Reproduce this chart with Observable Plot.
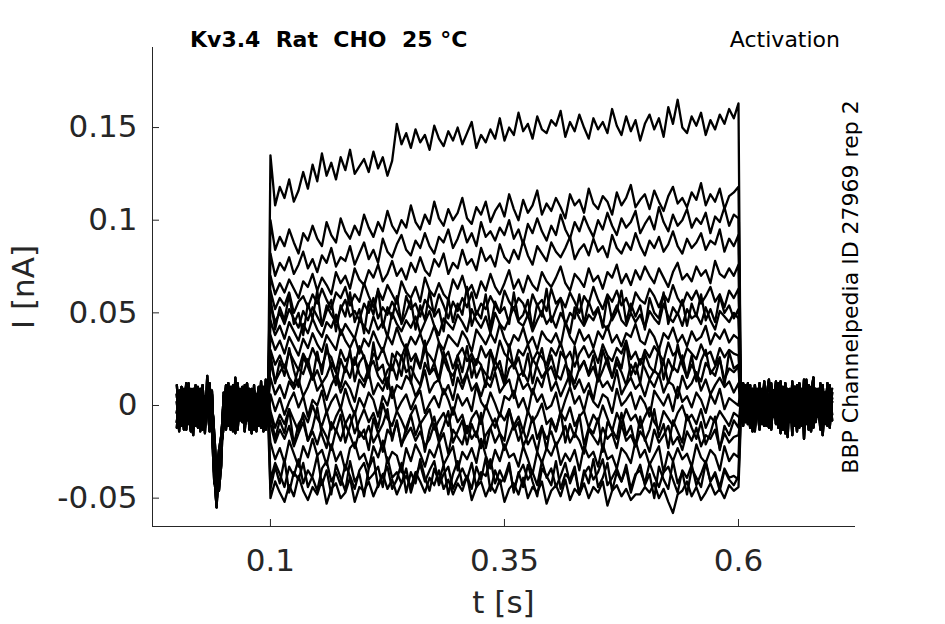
<!DOCTYPE html>
<html><head><meta charset="utf-8">
<script src="https://cdn.jsdelivr.net/npm/d3@7"></script>
<script src="https://cdn.jsdelivr.net/npm/@observablehq/plot@0.6"></script>
<style>body{margin:0;background:#fff} svg text{font-family:"DejaVu Sans"}</style>
</head><body><div id="chart"></div>
<script>
// ---- axes / labels ----
const xTicks = [0.1, 0.35, 0.6];
const yTicks = [-0.05, 0, 0.05, 0.1, 0.15];
const xDomain = [-0.026, 0.725];
const yDomain = [-0.0653, 0.1932];
const titleText = "Kv3.4  Rat  CHO  25 °C";
const protocolText = "Activation";
const sourceText = "BBP Channelpedia ID 27969 rep 2";
const xLabel = "t [s]";
const yLabel = "I [nA]";

// ---- protocol timing (s) ----
const pulseStart = 0.1, pulseEnd = 0.6, sweepEnd = 0.7;

// ---- current during the voltage step, per sweep (pA), sampled 0.100..0.600 s ----
const sweep1 = [135,108,118,112,122,110,116,126,117,130,121,136,124,131,122,134,127,138,125,129,133,126,137,128,134,124,132,152,141,147,139,149,142,146,138,151,144,140,148,143,150,141,147,153,139,146,142,149,144,155,143,150,146,158,148,152,144,156,149,147,154,151,159,145,153,148,157,150,144,155,149,153,147,160,151,146,156,148,154,143,152,157,149,155,145,161,152,165,150,147,156,151,158,146,154,149,157,152,160,155,163];
const sweep2 = [100,84,91,86,95,88,82,93,89,97,90,86,99,92,88,101,94,90,97,92,103,96,91,99,94,105,97,93,100,96,108,99,95,103,98,110,101,97,106,100,104,112,101,98,107,103,110,99,105,109,102,114,106,100,111,104,108,116,103,109,105,112,107,101,114,108,111,104,117,109,106,113,110,103,115,108,112,119,107,111,114,106,116,110,105,113,118,109,112,107,115,111,120,108,114,110,117,106,113,115,118];
const sweep3 = [82,70,77,73,80,71,76,83,74,79,72,81,77,85,75,80,78,86,76,82,88,79,84,77,90,83,80,87,92,84,81,89,85,93,86,82,91,88,95,85,90,97,88,93,86,99,91,94,89,96,92,100,90,95,87,98,93,101,94,89,97,92,103,95,90,99,94,102,96,91,100,95,104,97,92,101,96,99,105,93,98,102,95,107,99,94,103,97,100,106,96,101,98,104,93,102,99,107,97,103,101];
const sweep4 = [70,60,66,61,68,63,58,67,64,71,62,69,65,60,72,66,70,63,74,68,65,73,69,76,67,71,78,70,74,68,77,72,80,73,70,79,75,82,71,77,74,84,76,79,73,85,78,81,75,87,80,77,84,79,89,81,76,86,82,78,88,83,80,85,91,79,84,87,81,90,83,86,80,92,85,82,88,84,93,86,81,89,85,91,83,87,94,86,82,90,85,88,93,84,89,87,95,83,90,86,92];
const sweep5 = [62,52,58,54,61,50,56,59,53,60,55,63,57,52,61,58,64,54,60,56,66,59,53,62,57,65,60,55,67,61,58,64,56,69,62,59,66,60,57,68,63,70,61,65,58,67,62,71,64,60,66,73,63,68,61,70,65,62,72,67,64,69,75,66,62,71,68,64,74,67,70,63,72,69,76,66,71,65,73,68,75,70,66,74,69,64,72,77,68,71,67,75,70,73,66,78,71,69,74,70,76];
const sweep6 = [55,45,50,44,52,47,42,51,46,53,48,43,54,49,45,52,57,48,51,46,55,50,58,47,53,49,56,51,45,59,52,55,48,57,53,50,60,54,47,56,51,58,53,61,49,55,52,59,54,50,62,56,52,58,55,48,60,54,57,51,63,55,58,53,61,56,50,59,55,64,57,52,60,56,62,54,58,51,61,57,55,63,59,53,60,56,65,58,54,61,57,62,55,59,64,56,60,53,62,58,63];
const sweep7 = [58,41,53,46,60,44,50,38,55,47,62,43,51,57,40,54,48,61,45,52,39,56,49,63,42,53,47,59,44,50,57,41,54,46,62,48,52,40,58,45,55,49,64,43,51,47,60,42,56,50,53,44,61,46,49,57,41,55,48,63,45,52,58,43,50,47,60,44,56,49,53,42,59,46,51,62,45,55,48,54,41,58,50,47,61,44,53,49,57,43,55,48,60,46,52,45,59,50,54,47,52];
const sweep8 = [46,38,43,36,45,40,35,44,39,47,41,37,45,42,49,38,44,40,36,46,43,39,48,41,45,37,50,44,40,46,42,48,39,45,51,43,38,47,44,41,49,45,40,52,46,42,48,39,50,44,41,47,53,45,43,49,40,46,51,44,48,42,50,45,39,53,47,43,49,46,52,44,41,48,54,46,43,50,45,49,42,51,47,44,55,48,45,50,43,52,47,49,44,53,46,41,51,48,45,50,47];
const sweep9 = [38,30,35,28,37,32,27,36,31,39,33,29,38,34,30,41,35,31,37,28,36,32,40,34,29,38,33,42,35,30,37,33,39,31,36,43,34,30,38,35,32,40,36,29,41,37,33,39,34,44,36,31,38,35,42,33,37,30,40,36,34,39,32,45,37,33,41,35,38,31,40,36,43,34,38,32,39,37,44,35,33,41,37,30,39,36,42,34,38,32,40,35,37,43,33,39,36,41,34,38,36];
const sweep10 = [30,22,27,20,29,24,19,28,23,31,25,21,29,26,18,30,24,27,22,32,26,20,28,25,31,23,19,29,26,33,24,28,21,30,27,23,34,25,29,20,27,31,24,28,22,32,26,30,23,35,28,25,21,30,27,33,24,29,26,22,31,27,34,25,29,21,28,32,26,30,23,33,27,24,31,28,35,25,29,22,30,26,32,28,24,34,27,30,23,31,28,25,33,27,29,22,31,26,30,28,27];
const sweep11 = [28,12,24,16,31,19,10,26,21,14,29,17,33,20,11,25,18,30,13,23,27,15,34,19,22,9,28,24,16,31,12,26,20,35,17,23,14,29,21,11,27,18,32,15,25,22,10,30,19,24,13,33,20,26,16,28,12,23,31,18,21,14,29,25,11,32,19,24,17,27,13,30,22,15,26,20,34,16,23,12,28,21,18,31,14,25,19,33,22,15,27,13,24,30,17,21,26,11,29,20,22];
const sweep12 = [24,13,18,22,15,11,20,17,25,14,19,12,16,23,18,10,21,15,26,17,13,20,24,16,12,19,22,14,27,18,21,15,11,23,17,20,13,25,19,16,22,12,18,26,15,21,17,14,24,19,11,20,23,16,18,13,25,21,15,19,27,17,14,22,18,12,20,24,16,21,13,19,26,15,23,18,11,22,17,25,20,14,19,16,24,12,21,18,27,15,22,17,13,23,19,16,25,14,20,18,21];
const sweep13 = [15,6,11,4,13,9,14,5,10,17,8,12,3,11,16,7,13,9,2,14,10,18,6,12,8,15,4,11,9,16,13,5,10,19,7,12,14,6,11,3,15,9,17,8,12,5,13,10,18,7,11,14,4,16,9,12,6,15,10,20,8,13,5,11,17,9,14,7,12,3,16,10,13,8,19,6,11,15,9,12,5,14,10,17,7,13,11,4,16,9,12,18,8,14,6,11,15,10,13,7,12];
const sweep14 = [6,-3,4,-5,2,7,-1,5,-6,3,0,8,-4,2,6,-2,9,1,-5,4,-1,7,3,-6,5,0,10,-3,2,6,-2,4,8,-4,1,5,-1,9,3,-5,6,0,4,-3,11,2,-2,7,1,-6,5,3,8,-1,4,-4,9,2,6,-2,0,7,-5,3,10,1,5,-3,8,2,-1,6,4,-4,9,0,3,7,-2,5,1,-6,8,4,0,6,-3,10,2,5,-1,7,3,-4,6,1,9,-2,4,2,0];
const sweep15 = [-3,-12,-5,-10,-2,-8,-14,-4,-9,0,-7,-11,-3,-13,-6,-1,-10,-5,-15,-8,-2,-9,-4,-12,1,-7,-11,-3,-8,-14,-5,0,-10,-6,-2,-13,-8,-4,-11,-1,-9,-5,-15,-7,-3,-10,0,-6,-12,-4,-8,-2,-11,-6,-14,-3,-9,-5,1,-10,-7,-13,-4,-8,-1,-11,-6,-3,-12,-5,-9,0,-7,-14,-4,-10,-2,-8,-5,-12,-6,-1,-9,-13,-3,-7,-11,-4,0,-8,-5,-10,-2,-12,-6,-9,-3,-7,-11,-4,-6];
const sweep16 = [-4,-18,-8,-15,-2,-21,-10,-6,-19,-12,-1,-16,-23,-9,-14,-5,-20,-11,-3,-17,-13,-24,-7,-15,-10,-2,-19,-8,-22,-12,-5,-16,-9,-25,-13,-6,-18,-11,-3,-20,-14,-8,-21,-10,-17,-4,-23,-12,-7,-15,-19,-2,-13,-9,-22,-16,-6,-18,-11,-24,-8,-14,-3,-20,-10,-17,-5,-21,-12,-15,-7,-25,-9,-13,-18,-4,-16,-11,-22,-6,-19,-13,-2,-17,-10,-23,-8,-14,-20,-5,-12,-18,-9,-21,-15,-6,-24,-11,-16,-8,-12];
const sweep17 = [-10,-20,-13,-18,-11,-22,-15,-9,-19,-14,-21,-12,-17,-24,-13,-19,-10,-16,-23,-14,-18,-11,-20,-15,-25,-13,-17,-9,-21,-16,-12,-19,-14,-22,-18,-10,-20,-15,-26,-13,-17,-21,-11,-18,-14,-23,-16,-12,-20,-15,-24,-17,-10,-19,-13,-21,-16,-25,-12,-18,-14,-22,-17,-11,-20,-15,-19,-26,-13,-17,-21,-12,-18,-15,-23,-10,-19,-16,-22,-14,-18,-25,-13,-20,-16,-11,-21,-17,-24,-14,-19,-12,-22,-16,-18,-13,-23,-15,-20,-17,-16];
const sweep18 = [-20,-29,-23,-31,-19,-26,-33,-22,-28,-18,-27,-24,-32,-21,-30,-25,-35,-23,-20,-29,-26,-34,-22,-28,-19,-31,-25,-27,-36,-23,-30,-21,-26,-33,-24,-28,-20,-32,-27,-22,-35,-25,-29,-23,-31,-18,-27,-34,-24,-30,-21,-28,-26,-33,-22,-29,-37,-25,-31,-23,-27,-20,-32,-26,-30,-24,-35,-22,-28,-25,-33,-21,-29,-27,-34,-23,-26,-31,-19,-28,-24,-32,-27,-22,-36,-25,-30,-23,-29,-26,-33,-21,-28,-31,-24,-27,-35,-22,-30,-26,-28];
const sweep19 = [-40,-31,-37,-44,-33,-38,-29,-42,-35,-39,-46,-34,-30,-41,-36,-43,-32,-38,-45,-35,-31,-40,-37,-33,-44,-28,-39,-36,-42,-34,-47,-38,-32,-41,-35,-30,-43,-37,-33,-45,-39,-34,-40,-31,-44,-36,-38,-29,-42,-35,-41,-33,-46,-37,-32,-40,-36,-43,-30,-39,-34,-44,-38,-31,-42,-35,-48,-37,-33,-40,-36,-29,-43,-39,-34,-41,-32,-45,-37,-35,-42,-31,-38,-44,-36,-33,-40,-47,-35,-39,-32,-43,-37,-30,-41,-36,-44,-34,-39,-38,-40];
const sweep20 = [-45,-33,-42,-29,-47,-36,-40,-31,-44,-38,-27,-43,-35,-48,-32,-39,-46,-30,-41,-37,-49,-34,-28,-44,-38,-33,-45,-40,-31,-47,-36,-42,-29,-39,-46,-34,-41,-32,-48,-37,-30,-43,-38,-45,-33,-40,-28,-46,-35,-42,-39,-31,-47,-36,-44,-32,-41,-49,-34,-38,-43,-30,-45,-37,-40,-33,-48,-35,-42,-29,-44,-39,-31,-46,-36,-41,-34,-47,-38,-32,-43,-37,-50,-33,-40,-45,-30,-42,-36,-48,-34,-39,-44,-31,-41,-37,-46,-35,-40,-43,-38];
const sweep21 = [-50,-41,-47,-52,-43,-49,-38,-46,-51,-44,-48,-40,-53,-45,-42,-50,-47,-39,-52,-44,-46,-41,-49,-43,-37,-45,-40,-48,-42,-38,-44,-36,-41,-47,-39,-43,-35,-45,-40,-48,-42,-46,-38,-51,-44,-41,-49,-43,-47,-40,-52,-45,-42,-48,-39,-50,-44,-47,-41,-53,-46,-43,-49,-40,-51,-45,-48,-42,-50,-44,-47,-41,-54,-46,-43,-49,-45,-51,-48,-48,-44,-47,-42,-50,-45,-52,-58,-48,-46,-41,-49,-44,-51,-47,-42,-48,-45,-50,-43,-46,-44];
const pulseSweeps = [sweep1,sweep2,sweep3,sweep4,sweep5,sweep6,sweep7,sweep8,sweep9,sweep10,sweep11,sweep12,sweep13,sweep14,sweep15,sweep16,sweep17,sweep18,sweep19,sweep20,sweep21];

// ---- holding current before the step (pA), 0..0.1 s, incl. prepulse transient ----
const preA = [-4,8,-11,3,-7,9,-13,2,-6,10,-9,4,-12,7,-3,6,-20,-48,-30,-18,5,-10,8,-5,11,-12,2,-8,9,-14,4,-6,7,-11,1,10,-9,5,-13,3];
const preB = [6,-12,4,-8,11,-3,-14,7,-10,2,9,-13,5,-6,12,-9,-38,-55,-27,-22,-7,9,-11,3,-4,10,-13,6,-9,2,12,-7,-15,4,-3,8,-12,1,9,-10];
const preC = [-9,3,10,-6,-13,5,-2,9,-11,7,-4,11,-8,1,-14,8,-25,-44,-40,-26,3,-6,12,-13,4,-9,7,-2,10,-11,-5,9,-12,6,-7,3,11,-14,-1,7];
const preD = [2,-14,8,-5,12,-10,4,-7,11,-12,1,7,-15,9,-3,-11,-30,-52,-35,-21,-12,6,-4,10,-14,8,-9,5,-1,11,-8,3,9,-13,6,-6,13,-10,4,-2];
const preE = [11,-7,1,-13,6,-4,9,-11,3,8,-14,5,-9,16,-6,2,-15,-36,-46,-32,7,-13,1,6,-10,15,-7,9,-3,-12,8,-1,-9,11,-14,4,-5,10,-8,5];
const preF = [-12,5,-2,9,-9,12,-6,-16,8,-3,6,-10,2,-5,10,-13,-42,-35,-24,-16,-2,11,-9,-3,7,-15,12,-4,3,-10,9,-13,2,8,-4,-11,6,-8,14,-6];
const prePools = [preA,preB,preC,preD,preE,preF];

// ---- holding current after the step (pA), 0.6..0.7 s ----
const postA = [4,-8,10,-3,-12,6,-5,9,-10,2,11,-7,3,-13,8,-2,12,-9,5,-6,-17,7,-4,10,-11,1,8,-8,14,-3,-10,6,-1,9,-12,3,7,-7,11,-5];
const postB = [-6,9,-2,12,-10,4,-14,7,0,-9,10,-5,6,-12,2,13,-8,4,-3,9,-11,5,-16,8,-1,11,-7,3,-10,6,-4,15,-9,2,-13,8,-2,10,-6,4];
const postC = [8,-11,3,-5,11,-8,6,-2,-13,9,-4,7,-10,12,-1,-7,5,-15,10,-3,6,-9,13,-6,2,-12,9,-18,4,11,-5,-10,7,-3,12,-8,1,-11,6,9];
const postD = [-3,12,-9,6,-1,9,-12,2,10,-6,-11,5,14,-4,8,-10,1,11,-13,6,-2,9,-7,3,-14,12,-5,7,-1,-9,10,-12,4,-6,8,-16,5,-3,10,-8];
const postE = [10,-5,2,-10,7,-13,11,-2,4,-8,13,-11,1,9,-6,3,-12,8,-4,12,-9,2,-3,10,-7,5,-11,14,-2,6,-14,3,9,-5,-1,11,-10,6,-4,2];
const postF = [-9,4,11,-7,2,-14,8,-3,12,-10,5,-1,-12,10,-5,7,-9,13,-2,-15,9,-6,4,-11,11,-4,1,-8,8,-13,6,15,-7,3,-10,5,-6,12,-12,7];
const postPools = [postA,postB,postC,postD,postE,postF];

// ---- build long table (pA -> nA) ----
const rows = [];
pulseSweeps.forEach((pulse, k) => {
  const pre = prePools[k % prePools.length];
  const post = postPools[(k + 3) % postPools.length];
  pre.forEach((v, i) => rows.push({sweep: k, t: pulseStart * i / pre.length, I: v / 1000}));
  pulse.forEach((v, i) => rows.push({sweep: k, t: pulseStart + (pulseEnd - pulseStart) * i / (pulse.length - 1), I: v / 1000}));
  post.forEach((v, i) => rows.push({sweep: k, t: pulseEnd + (sweepEnd - pulseEnd) * (i + 1) / post.length, I: v / 1000}));
});

const W = 945, H = 624, mL = 152, mR = 90, mT = 47, mB = 98;
const ink = "#262626";
const fmt = d => String(d);

const chart = Plot.plot({
  width: W, height: H,
  marginLeft: mL, marginRight: mR, marginTop: mT, marginBottom: mB,
  style: {fontFamily: "DejaVu Sans", background: "#fff"},
  x: {domain: xDomain},
  y: {domain: yDomain},
  marks: [
    Plot.line(rows, {x: "t", y: "I", z: "sweep", stroke: "black", strokeWidth: 2.3, strokeLinejoin: "round"}),
    Plot.ruleX([xDomain[0]], {stroke: ink, strokeWidth: 1}),
    Plot.ruleY([yDomain[0]], {stroke: ink, strokeWidth: 1}),
    Plot.tickX(xTicks, {x: d => d, insetTop: (H - mT - mB) - 7, stroke: ink}),
    Plot.tickY(yTicks, {y: d => d, insetRight: (W - mL - mR) - 7, stroke: ink}),
    Plot.axisX(xTicks, {tickSize: 0, tickPadding: 22, tickFormat: fmt, fontSize: 31, fill: ink, label: null}),
    Plot.axisY(yTicks, {tickSize: 0, tickPadding: 15, tickFormat: fmt, fontSize: 31, fill: ink, label: null})
  ]
});

const svg = d3.select(chart);
svg.append("text").attr("x", 190).attr("y", 47).attr("font-size", 22).attr("font-weight", "bold")
  .attr("text-anchor", "start").attr("fill", "black").style("white-space", "pre").text(titleText);
svg.append("text").attr("x", 840).attr("y", 47).attr("font-size", 22).attr("text-anchor", "end")
  .attr("fill", "black").text(protocolText);
svg.append("text").attr("transform", "translate(858,287) rotate(-90)").attr("font-size", 22)
  .attr("text-anchor", "middle").attr("fill", "black").text(sourceText);
svg.append("text").attr("transform", "translate(34,287) rotate(-90)").attr("font-size", 31)
  .attr("text-anchor", "middle").attr("fill", ink).text(yLabel);
svg.append("text").attr("x", (mL + W - mR) / 2).attr("y", 613).attr("font-size", 31)
  .attr("text-anchor", "middle").attr("fill", ink).text(xLabel);

document.getElementById("chart").appendChild(chart);
</script></body></html>
